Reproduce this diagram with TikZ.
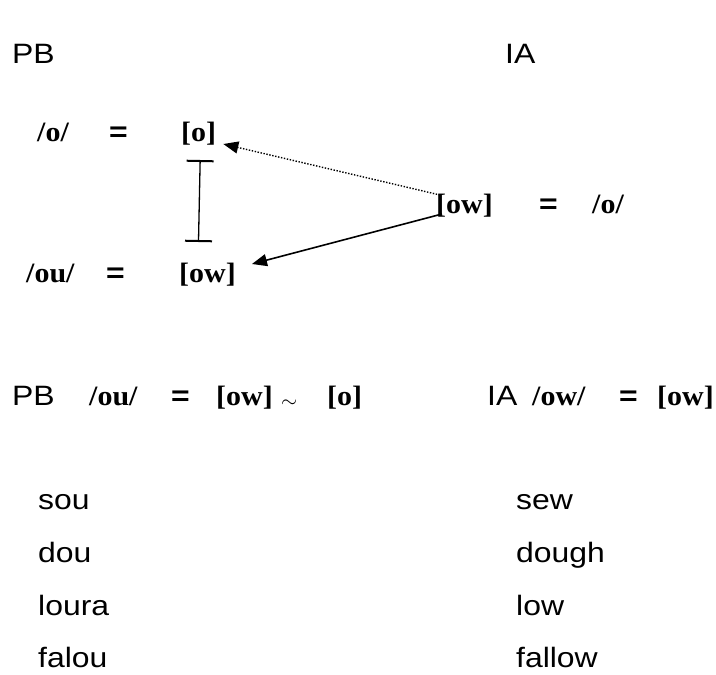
\documentclass[tikz,border=0pt]{standalone}
\usepackage{fontspec}
\usepackage{graphicx}
\setmainfont{Liberation Serif}
\setsansfont{Liberation Sans}
\usetikzlibrary{arrows.meta}
\tikzstyle{word}=[anchor=base west,inner sep=0pt,font=\fontsize{28}{34}\selectfont\sffamily]
\tikzstyle{phon}=[word,font=\fontsize{28}{34}\selectfont\rmfamily\bfseries]
\tikzstyle{eqsign}=[word,font=\fontsize{28}{34}\selectfont\sffamily\bfseries]
\tikzstyle{arrowline}=[draw,line width=1.6pt,-{Triangle[length=15pt,width=12pt]}]
\newcommand{\widen}[1]{\scalebox{1.14}[1]{#1}}
\newcommand{\phonw}[1]{\scalebox{1.07}[1]{#1}}

\begin{document}
\begin{tikzpicture}[x=1pt,y=-1pt]
    \useasboundingbox (0,0) rectangle (716,675);
    % headings
    \node[word] (pbhead) at (12,63) {\widen{PB}};
    \node[word] (iahead) at (505,63) {\widen{IA}};
    % PB side
    \node[phon] (lo) at (37,141) {\phonw{/o/}};
    \node[eqsign] (eqa) at (109,141) {\widen{=}};
    \node[phon] (po) at (181,141) {\phonw{[o]}};
    \node[phon] (lou) at (26,282) {\phonw{/ou/}};
    \node[eqsign] (eqc) at (106,282) {\widen{=}};
    \node[phon] (pow) at (179,282) {\phonw{[ow]}};
    % IA side
    \node[phon] (iaow) at (436,213) {\phonw{[ow]}};
    \node[eqsign] (eqb) at (539,213) {\widen{=}};
    \node[phon] (iao) at (592,213) {\phonw{/o/}};
    % connectors
    \path[arrowline,line width=1.4pt,dash pattern=on 1.4pt off 1.6pt]
        ([xshift=4pt,yshift=18pt]iaow.base west) -- ([xshift=7pt,yshift=-3pt]po.base east);
    \path[arrowline] ([xshift=6pt,yshift=-1pt]iaow.base west) -- ([xshift=16pt,yshift=18pt]pow.base east);
    \draw[line width=1.3pt,{Bar[width=27pt,line width=2pt]}-{Bar[width=27pt,line width=2pt]}]
        ([xshift=1.5pt,yshift=-19pt]po.base) -- ([xshift=-9pt,yshift=40pt]pow.base);
    % summary row
    \node[word] (pbrow) at (12,405) {\widen{PB}};
    \node[phon] (pbou) at (89,405) {\phonw{/ou/}};
    \node[eqsign] (pbeq) at (171,405) {\widen{=}};
    \node[phon] (pbow) at (216,405) {\phonw{[ow]}};
    \node[word,font=\fontsize{20}{20}\selectfont] (pbsim) at (281,407) {$\sim$};
    \node[phon] (pbo) at (327,405) {\phonw{[o]}};
    \node[word] (iarow) at (487,405) {\widen{IA}};
    \node[phon] (iarowow) at (532,405) {\phonw{/ow/}};
    \node[eqsign] (iaeq) at (619,405) {\widen{=}};
    \node[phon] (iarowpw) at (657,405) {\phonw{[ow]}};
    % word pairs
    \foreach \pb/\ia/\y in {sou/sew/509, dou/dough/562, loura/low/615, falou/fallow/667}
    {
        \node[word] (pb-\pb) at (38,\y) {\widen{\pb}};
        \node[word] (ia-\ia) at (516,\y) {\widen{\ia}};
    }
\end{tikzpicture}
\end{document}
